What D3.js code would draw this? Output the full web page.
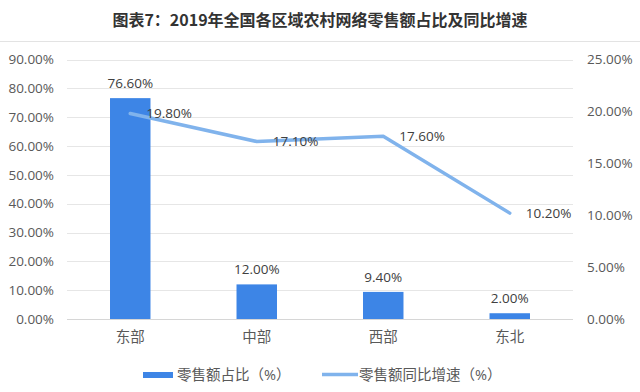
<!DOCTYPE html>
<html>
<head>
<meta charset="utf-8">
<script src="https://cdn.jsdelivr.net/npm/d3@7"></script>
<style>
    body { margin: 0; background: #fff; }
    text { font-family: "Open Sans", "Noto Sans CJK SC", sans-serif; }
</style>
</head>
<body>
<div id="canva"></div>
<script>
const regions = ["东部", "中部", "西部", "东北"];
const shareValues = [76.6, 12.0, 9.4, 2.0];
const growthValues = [19.8, 17.1, 17.6, 10.2];
const leftTicks = [0, 10, 20, 30, 40, 50, 60, 70, 80, 90];
const rightTicks = [0, 5, 10, 15, 20, 25];

const width = 640;
const height = 392;
const margin = { top: 59.5, right: 67, bottom: 73, left: 67 };

const svg = d3.select("#canva").append("svg")
    .attr("width", width)
    .attr("height", height);

svg.append("text")
    .attr("x", width / 2)
    .attr("y", 26)
    .attr("text-anchor", "middle")
    .attr("font-size", "16px")
    .attr("font-weight", "bold")
    .attr("fill", "#333")
    .style("font-family", "'Noto Sans CJK SC', sans-serif")
    .text("图表7：2019年全国各区域农村网络零售额占比及同比增速");

svg.append("line")
    .attr("x1", 0).attr("x2", width)
    .attr("y1", 41.5).attr("y2", 41.5)
    .attr("stroke", "#e3e3e3");

const x = d3.scaleBand()
    .domain(regions)
    .range([margin.left, width - margin.right])
    .paddingInner(0.68)
    .paddingOuter(0.34);

const y = d3.scaleLinear()
    .domain([0, 90])
    .range([height - margin.bottom, margin.top]);

const y2 = d3.scaleLinear()
    .domain([0, 25])
    .range([height - margin.bottom, margin.top]);

// grid
svg.append("g")
    .selectAll("line")
    .data(leftTicks)
    .join("line")
        .attr("x1", margin.left)
        .attr("x2", width - margin.right)
        .attr("y1", d => Math.round(y(d)) + 0.5)
        .attr("y2", d => Math.round(y(d)) + 0.5)
        .attr("stroke", d => d === 0 ? "#d6d6d6" : "#e6e6e6");

function leftAxis(g) {
    g.attr("transform", `translate(${margin.left}, 0)`)
        .call(d3.axisLeft(y).tickValues(leftTicks).tickSize(0).tickPadding(13)
            .tickFormat(d => d.toFixed(2) + "%"));
    g.select(".domain").remove();
    g.selectAll("text").attr("font-size", "13.5px").attr("fill", "#595959");
}

function rightAxis(g) {
    g.attr("transform", `translate(${width - margin.right}, 0)`)
        .call(d3.axisRight(y2).tickValues(rightTicks).tickSize(0).tickPadding(14)
            .tickFormat(d => d.toFixed(2) + "%"));
    g.select(".domain").remove();
    g.selectAll("text").attr("font-size", "13.5px").attr("fill", "#595959");
}

function xAxis(g) {
    g.attr("transform", `translate(0, ${height - margin.bottom})`)
        .call(d3.axisBottom(x).tickSize(0).tickPadding(13));
    g.select(".domain").remove();
    g.selectAll("text").attr("font-size", "14.5px").attr("fill", "#595959")
        .style("font-family", "'Noto Sans CJK SC', sans-serif");
}

svg.append("g").call(leftAxis);
svg.append("g").call(rightAxis);
svg.append("g").call(xAxis);

// bars
svg.append("g")
    .attr("fill", "#3d85e6")
    .selectAll("rect")
    .data(shareValues)
    .join("rect")
        .attr("x", (d, i) => x(regions[i]))
        .attr("y", d => y(d))
        .attr("width", x.bandwidth())
        .attr("height", d => y(0) - y(d));

svg.append("g")
    .selectAll("text")
    .data(shareValues)
    .join("text")
        .attr("x", (d, i) => x(regions[i]) + x.bandwidth() / 2)
        .attr("y", d => y(d) - 10)
        .attr("text-anchor", "middle")
        .attr("font-size", "13.5px")
        .attr("fill", "#404040")
        .text(d => d.toFixed(2) + "%");

// growth line
const line = d3.line()
    .x((d, i) => x(regions[i]) + x.bandwidth() / 2)
    .y(d => y2(d));

svg.append("path")
    .datum(growthValues)
    .attr("fill", "none")
    .attr("stroke", "#80b3ec")
    .attr("stroke-width", 3.5)
    .attr("stroke-linejoin", "round")
    .attr("stroke-linecap", "round")
    .attr("d", line);

svg.append("g")
    .selectAll("text")
    .data(growthValues)
    .join("text")
        .attr("x", (d, i) => x(regions[i]) + x.bandwidth() / 2 + 16)
        .attr("y", d => y2(d))
        .attr("dy", "0.35em")
        .attr("font-size", "13.5px")
        .attr("fill", "#404040")
        .text(d => d.toFixed(2) + "%");

// legend
const legend = svg.append("g").attr("font-size", "14.5px").attr("fill", "#595959")
    .style("font-family", "'Noto Sans CJK SC', sans-serif");

legend.append("rect")
    .attr("x", 143).attr("y", 372)
    .attr("width", 30).attr("height", 6)
    .attr("fill", "#3d85e6");

legend.append("text")
    .attr("x", 177).attr("y", 375)
    .attr("dy", "0.35em")
    .text("零售额占比（%）");

legend.append("line")
    .attr("x1", 322).attr("x2", 358)
    .attr("y1", 374.5).attr("y2", 374.5)
    .attr("stroke", "#80b3ec")
    .attr("stroke-width", 3.5);

legend.append("text")
    .attr("x", 359).attr("y", 375)
    .attr("dy", "0.35em")
    .text("零售额同比增速（%）");
</script>
</body>
</html>
